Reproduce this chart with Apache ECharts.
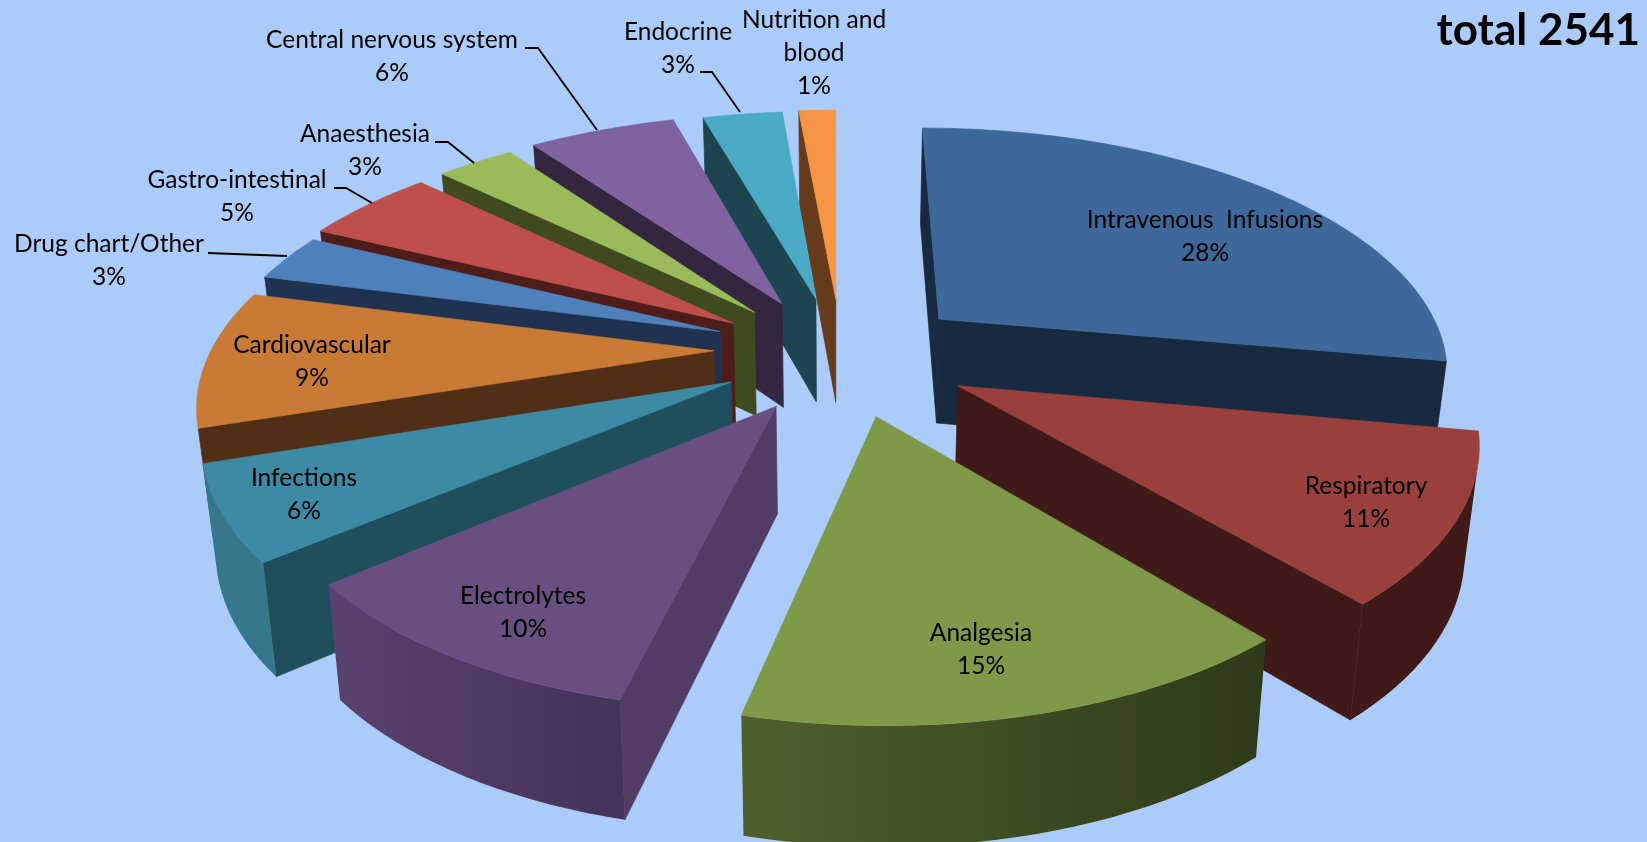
<!DOCTYPE html>
<html><head><meta charset="utf-8">
<style>html,body{margin:0;padding:0;background:#abcbf9}#c{width:1647px;height:842px}</style>
<script src="https://cdn.jsdelivr.net/npm/echarts@6/dist/echarts.min.js"></script>
</head><body><div id="c"></div>
<script>
// ---- data ----
var names = ['Intravenous  Infusions','Respiratory','Analgesia','Electrolytes','Infections','Cardiovascular','Drug chart/Other','Gastro-intestinal','Anaesthesia','Central nervous system','Endocrine','Nutrition and\nblood'];
var values = [27.86,10.94,14.93,10.27,6,9,3.1,4.95,2.95,5.55,3.05,1.4];
var titleText = 'total 2541';
// ---- styles ----
var topColors  = ['#3e6899','#9a403c','#7e9948','#684f80','#3c8aa3','#c97b36','#4e80bb','#bf4f4c','#9bba59','#7f63a1','#4aaac5','#f69545'];
var sideColors = ['#172a40','#3f1a18','#2e3a1a','#533c66','#1f4e5c','#512f16','#1f3350','#4e1d1a','#3f4a1e','#33263f','#1c4550','#653b1a'];
var rimStart   = ['#172a40','#3f1a18','#2e3a1a','#45335a','#35788c','#512f16','#1f3350','#4e1d1a','#3f4a1e','#33263f','#1c4550','#653b1a'];
var rimEnd     = ['#172a40','#3f1a18','#4f602c','#5a426e','#35788c','#512f16','#1f3350','#4e1d1a','#3f4a1e','#33263f','#1c4550','#653b1a'];
// ---- layout of the perspective pie ----
var view = {cx:835, cy:347, A:504, B:236, k:0.19, h:105, dB:10, conv:0.977};
var explode     = [0.243,0.285,0.29,0.265,0.247,0.24,0.24,0.23,0.224,0.217,0.215,0.21];
var explodeTurn = [10,4,-2,-7,-7,-2,-4,-8,-6,-4,0,3];
var radius      = [1.005,0.975,0.95,0.95,0.995,0.995,1,1.02,1.02,1.03,1.02,1.03];
var labelCenter = [[1205,220],[1366,486],[981,633],[523,596],[304,478],[312,345],[109,244],[237,180],[365,134],[392,40],[678,32],[814,20]];
var leaders = {6:[[208,253],[287,256]],7:[[334,188],[346,188],[372,203]],8:[[435,142],[448,142],[474,163]],9:[[525,48],[538,48],[597,130]],10:[[700,72],[712,72],[740,112]]};
var lineGap = 33;
var fontFamily = 'Lato, "Open Sans", sans-serif';

var total = values.reduce(function(a,b){return a+b;},0);
var slices = [], acc = 0;
values.forEach(function(v,i){
  var s = acc/total*2*Math.PI, e = (acc+v)/total*2*Math.PI;
  acc += v;
  var mid = (s+e)/2, dir = mid + explodeTurn[i]*Math.PI/180;
  slices.push({i:i,s:s,e:e,mid:mid,r:radius[i],du:explode[i]*Math.sin(dir),dv:explode[i]*Math.cos(dir)});
});
function project(u,v,z){
  var d = 1+view.k*v;
  return [view.cx + view.A*(1-(1-view.conv)*z)*u/d,
          view.cy + view.h*z - (view.B+view.dB*z)*v/d];
}
function pt(sl,r,t,z){ return project(sl.du+r*sl.r*Math.sin(t), sl.dv+r*sl.r*Math.cos(t), z); }
function area(p){var a=0;for(var i=0;i<p.length;i++){var q=p[(i+1)%p.length];a+=p[i][0]*q[1]-q[0]*p[i][1];}return a/2;}
function mix(a,b,t){
  var pa=parseInt(a.slice(1),16),pb=parseInt(b.slice(1),16),out=[];
  [16,8,0].forEach(function(sh){var x=(pa>>sh)&255,y=(pb>>sh)&255;out.push(Math.round(x+(y-x)*t));});
  return 'rgb('+out.join(',')+')';
}
function poly(points,color){return {type:'polygon',shape:{points:points},style:{fill:color,stroke:color,lineWidth:0.7}};}
function wedgeElements(sl){
  var out=[], i=sl.i, n=Math.max(8,Math.ceil((sl.e-sl.s)/(Math.PI/90)));
  function quad(a,b){return [pt(sl,a[0],a[1],0),pt(sl,b[0],b[1],0),pt(sl,b[0],b[1],1),pt(sl,a[0],a[1],1)];}
  function side(a,b,color){var q=quad(a,b); if(area(q)<0) out.push(poly(q,color));}
  side([0,sl.s],[1,sl.s],sideColors[i]);
  side([1,sl.e],[0,sl.e],sideColors[i]);
  // rim: the facing run of the arc as one shaded shape
  var first=-1,last=-1,j;
  function at(k){return sl.s+(sl.e-sl.s)*k/n;}
  for(j=0;j<n;j++){
    if(area(quad([1,at(j)],[1,at(j+1)]))<0){ if(first<0) first=j; last=j+1; }
  }
  if(first>=0){
    var upper=[],lower=[];
    for(j=first;j<=last;j++){upper.push(pt(sl,1,at(j),0));lower.unshift(pt(sl,1,at(j),1));}
    var x0=upper[0][0],x1=upper[upper.length-1][0];
    var c0=mix(rimStart[i],rimEnd[i],first/n),c1=mix(rimStart[i],rimEnd[i],last/n);
    var fill=new echarts.graphic.LinearGradient(x0,0,x1,0,[{offset:0,color:c0},{offset:1,color:c1}],true);
    out.push({type:'polygon',shape:{points:upper.concat(lower)},style:{fill:fill}});
  }
  var top=[pt(sl,0,sl.s,0)];
  for(j=0;j<=n;j++) top.push(pt(sl,1,at(j),0));
  out.push(poly(top,topColors[i]));
  return out;
}
var paintOrder = slices.slice().sort(function(a,b){
  return (Math.cos(b.mid)+b.dv)-(Math.cos(a.mid)+a.dv);
}).map(function(s){return s.i;});

var chart = echarts.init(document.getElementById('c'),null,{renderer:'canvas'});
chart.setOption({
  backgroundColor:'#abcbf9',
  animation:false,
  title:{text:titleText,right:7,top:9,padding:0,textStyle:{fontFamily:fontFamily,fontSize:44,fontWeight:'bold',color:'#000'}},
  series:[
    {type:'custom',coordinateSystem:'none',silent:true,z:2,
     data:paintOrder.map(function(i){return [i,values[i]];}),
     renderItem:function(p,api){return {type:'group',children:wedgeElements(slices[api.value(0)])};}},
    {type:'custom',coordinateSystem:'none',silent:true,z:5,
     data:names.map(function(n,i){return [i,values[i]];}),
     renderItem:function(p,api){
       var i=api.value(0), ch=[], c=labelCenter[i];
       var lines=names[i].split('\n').concat([Math.round(api.value(1)/total*100)+'%']);
       lines.forEach(function(t,j){
         ch.push({type:'text',style:{text:t,x:c[0],y:c[1]+j*lineGap,align:'center',verticalAlign:'middle',fontFamily:fontFamily,fontSize:24.5,fill:'#000'}});
       });
       if(leaders[i]) ch.push({type:'polyline',shape:{points:leaders[i]},style:{fill:'none',stroke:'#000',lineWidth:1.8}});
       return {type:'group',children:ch};
     }}
  ]
});
</script></body></html>
